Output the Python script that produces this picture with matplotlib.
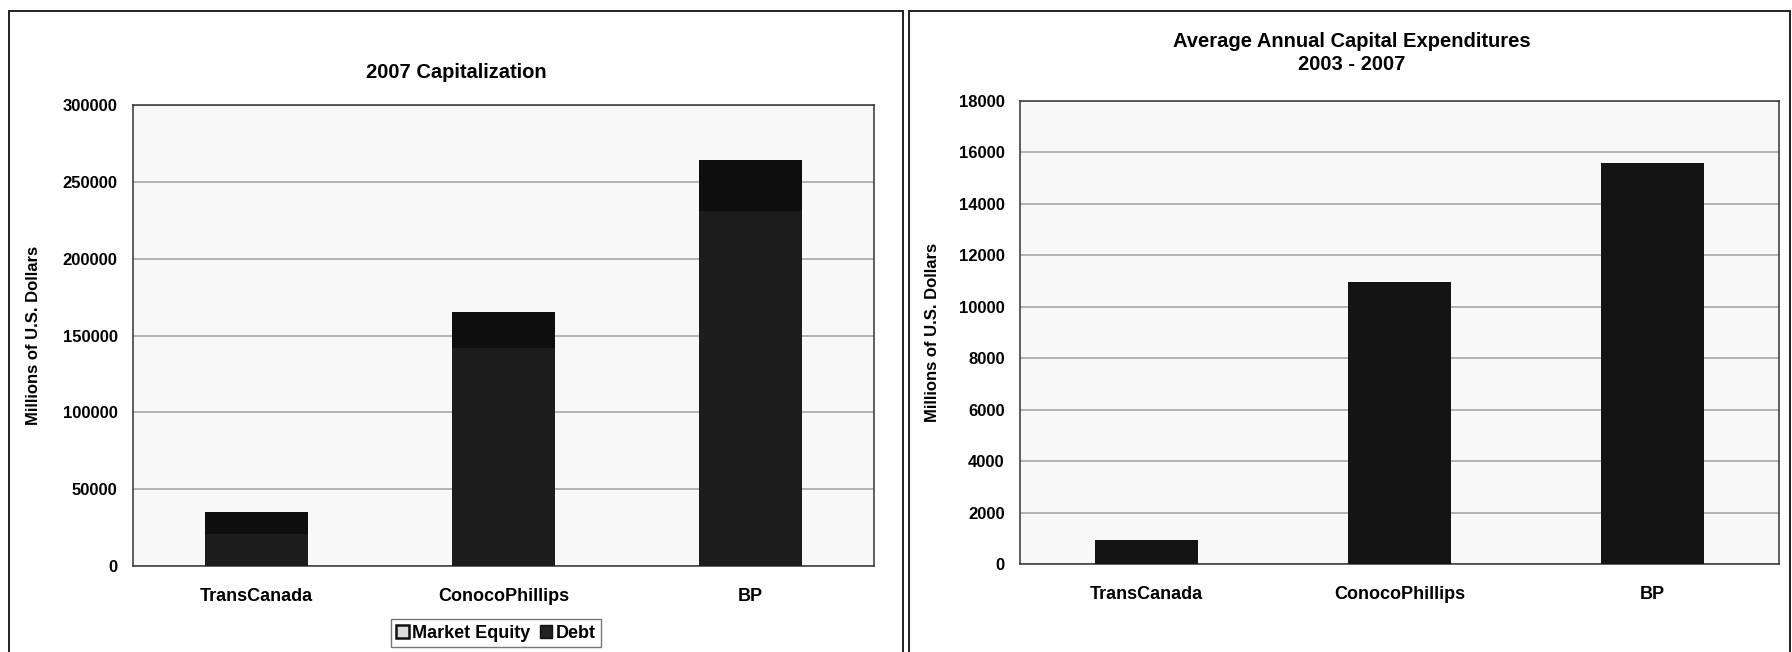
import matplotlib.pyplot as plt
from matplotlib.patches import Rectangle
import numpy as np

plt.rcParams['font.family'] = ['Liberation Sans', 'DejaVu Sans']
plt.rcParams['font.weight'] = 'bold'

companies = ['TransCanada', 'ConocoPhillips', 'BP']
market_equity = [20800, 142000, 231000]
debt = [14300, 23000, 33500]
capex = [920, 10970, 15580]

fig = plt.figure(figsize=(17.92, 6.52), dpi=100)
fig.patch.set_facecolor('white')

# panel frames (double line where they meet)
fig.add_artist(Rectangle((9 / 1792, -0.01), (903 - 9) / 1792, 1 - 11 / 652 + 0.01,
                         transform=fig.transFigure, fill=False, lw=1.4, ec='#222222'))
fig.add_artist(Rectangle((909 / 1792, -0.01), (1790 - 909) / 1792, 1 - 11 / 652 + 0.01,
                         transform=fig.transFigure, fill=False, lw=1.4, ec='#222222'))

x = np.arange(len(companies))


def style_axes(ax, ymax, step, label_x):
    ax.set_facecolor('#f8f8f8')
    ax.set_xlim(-0.5, 2.5)
    ax.set_ylim(0, ymax)
    ax.set_yticks(np.arange(0, ymax + 1, step))
    ax.yaxis.grid(True, color='#a0a0a0', lw=1.1)
    ax.set_axisbelow(True)
    for s in ax.spines.values():
        s.set_color('#333333')
        s.set_linewidth(1.1)
    ax.tick_params(axis='y', length=0, labelsize=12, pad=11)
    ax.tick_params(axis='x', length=0, labelsize=13, pad=16)
    ax.set_xticks(x)
    ax.set_xticklabels(companies, fontweight='bold')
    for lab in ax.get_yticklabels():
        lab.set_fontweight('bold')
    ax.set_ylabel('Millions of U.S. Dollars', fontsize=12, fontweight='bold')
    ax.yaxis.set_label_coords(label_x, 0.5)


# left: 2007 capitalization
ax1 = fig.add_axes([133 / 1792, 86 / 652, 741 / 1792, 461 / 652])
ax1.bar(x, market_equity, width=0.42, color='#1c1c1c', label='Market Equity', zorder=3)
ax1.bar(x, debt, width=0.42, bottom=market_equity, color='#0e0e0e', label='Debt', zorder=3)
style_axes(ax1, 300000, 50000, -0.124)
fig.text(456 / 1792, 1 - 72 / 652, '2007 Capitalization', ha='center', va='center',
         fontsize=14.5, fontweight='bold')

handles = [Rectangle((0, 0), 1, 1, fc='#dddddd', ec='#111111', lw=1.8),
           Rectangle((0, 0), 1, 1, fc='#222222', ec='#111111')]
fig.legend(handles, ['Market Equity', 'Debt'], loc='center', bbox_to_anchor=(496 / 1792, 19 / 652),
           ncol=2, frameon=True, fancybox=False, edgecolor='#555555',
           handlelength=0.7, handleheight=0.7, handletextpad=0.2, columnspacing=0.5,
           borderpad=0.3, prop={'weight': 'bold', 'size': 13})

# right: average annual capex
ax2 = fig.add_axes([1020 / 1792, 88 / 652, 759 / 1792, 463 / 652])
ax2.bar(x, capex, width=0.41, color='#141414', zorder=3)
style_axes(ax2, 18000, 2000, -0.105)
fig.text(1352 / 1792, 1 - 53 / 652, 'Average Annual Capital Expenditures\n2003 - 2007',
         ha='center', va='center', fontsize=14.5, fontweight='bold', linespacing=1.25)

fig.savefig('out.png', dpi=100)
